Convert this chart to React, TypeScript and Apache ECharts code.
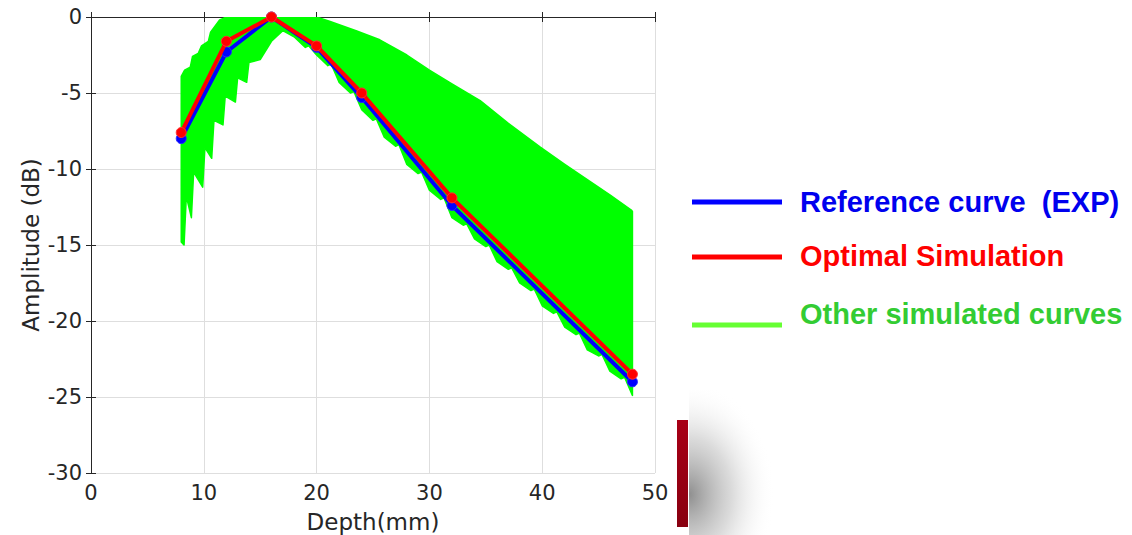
import React, { useEffect, useRef } from "react";
import * as echarts from "echarts";

// Depth positions of the measured / simulated points (mm)
const depth = [8, 12, 16, 20, 24, 32, 48];
// Reference curve (EXP), dB
const referenceExp = [-8.0, -2.3, 0, -2.0, -5.3, -12.4, -24.0];
// Optimal simulation, dB
const optimalSim = [-7.6, -1.6, 0, -1.9, -5.0, -11.9, -23.5];

// Envelope of the other simulated curves (upper edge, left -> right)
const envUpperX = [8.0, 8.3, 8.8, 9.0, 9.5, 9.8, 10.4, 10.6, 11.4, 12.0, 20.0, 21.2, 23.5, 25.6, 28, 30, 32, 34.5, 37, 39.8, 42, 44, 46, 47.9, 48.0];
const envUpperY = [-3.9, -3.5, -3.3, -2.6, -2.4, -1.9, -1.6, -1.0, -0.2, 0, 0, -0.3, -0.9, -1.5, -2.5, -3.5, -4.4, -5.5, -7.0, -8.55, -9.7, -10.7, -11.7, -12.7, -12.8];
// Envelope lower edge (left -> right)
const envLowerX = [8.0, 8.25, 8.45, 8.9, 9.1, 9.9, 10.1, 10.7, 10.9, 11.7, 11.9, 12.8, 13.0, 13.8, 14.0, 15.0, 16.0, 17, 18, 19, 19.3, 20, 21, 21.3, 22, 23, 23.3, 24, 25, 25.3, 26, 27, 27.3, 28, 29, 29.3, 30, 31, 31.3, 32, 33, 33.3, 34, 35, 35.3, 36, 37, 37.3, 38, 39, 39.3, 40, 41, 41.3, 42, 43, 43.3, 44, 45, 45.3, 46, 47, 47.3, 48];
const envLowerY = [-14.8, -15.0, -11.8, -13.2, -10.2, -11.2, -8.6, -9.3, -6.8, -7.1, -5.2, -5.6, -4.0, -4.3, -3.0, -2.8, -1.6, -0.9, -1.3, -2.0, -1.9, -2.5, -3.2, -3.1, -4.3, -5.0, -4.9, -6.1, -6.8, -6.7, -7.9, -8.5, -8.4, -9.7, -10.3, -10.2, -11.4, -12.0, -11.9, -13.2, -13.7, -13.6, -14.6, -15.1, -15.0, -16.1, -16.6, -16.5, -17.5, -18.0, -17.9, -19.0, -19.5, -19.4, -20.4, -20.9, -20.8, -21.9, -22.3, -22.2, -23.3, -23.8, -23.7, -24.9];

const legendLabels = ["Reference curve  (EXP)", "Optimal Simulation", "Other simulated curves"];

const AXIS_FONT = "'DejaVu Sans', Verdana, sans-serif";
const AXIS_COLOR = "#262626";
const LEGEND_FONT = "bold 29px 'Liberation Sans', Arial, sans-serif";

export default function App() {
  const ref = useRef<HTMLDivElement>(null);

  useEffect(() => {
    if (!ref.current) return;
    const chart = echarts.init(ref.current, undefined, { renderer: "svg" });

    const refData = depth.map((d, i) => [d, referenceExp[i]]);
    const optData = depth.map((d, i) => [d, optimalSim[i]]);

    const axisLabelStyle = { color: AXIS_COLOR, fontSize: 21, fontFamily: AXIS_FONT };
    const nameStyle = { color: AXIS_COLOR, fontSize: 23, fontFamily: AXIS_FONT };
    const lineAxis = { show: true, lineStyle: { color: AXIS_COLOR, width: 1 } };
    const tickAxis = { show: true, inside: true, length: 5, lineStyle: { color: AXIS_COLOR } };
    const gridLine = { show: true, lineStyle: { color: "#dedede", width: 1 } };

    const option: any = {
      animation: false,
      backgroundColor: "#ffffff",
      grid: { left: 91, right: 477, top: 17, bottom: 62, containLabel: false, outerBoundsMode: "none" },
      xAxis: [
        {
          type: "value",
          min: 0,
          max: 50,
          interval: 10,
          name: "Depth(mm)",
          nameLocation: "middle",
          nameGap: 37,
          nameTextStyle: nameStyle,
          axisLine: lineAxis,
          axisTick: tickAxis,
          axisLabel: { ...axisLabelStyle, margin: 9 },
          splitLine: gridLine,
        },
        {
          type: "value",
          position: "top",
          min: 0,
          max: 50,
          interval: 10,
          axisLine: lineAxis,
          axisTick: tickAxis,
          axisLabel: { show: false },
          splitLine: { show: false },
        },
      ],
      yAxis: [
        {
          type: "value",
          min: -30,
          max: 0,
          interval: 5,
          name: "Amplitude (dB)",
          nameLocation: "middle",
          nameGap: 49,
          nameTextStyle: nameStyle,
          axisLine: lineAxis,
          axisTick: tickAxis,
          axisLabel: { ...axisLabelStyle, margin: 9 },
          splitLine: gridLine,
        },
        {
          type: "value",
          position: "right",
          min: -30,
          max: 0,
          interval: 5,
          axisLine: lineAxis,
          axisTick: tickAxis,
          axisLabel: { show: false },
          splitLine: { show: false },
        },
      ],
      series: [
        {
          type: "custom",
          name: legendLabels[2],
          coordinateSystem: "cartesian2d",
          xAxisIndex: 0,
          yAxisIndex: 0,
          silent: true,
          clip: true,
          z: 1,
          data: [[envUpperX[0], envUpperY[0]]],
          renderItem: (params: any, api: any) => {
            if (params.dataIndex !== 0) return null;
            const pts: number[][] = [];
            for (let i = 0; i < envUpperX.length; i++) pts.push(api.coord([envUpperX[i], envUpperY[i]]));
            for (let i = envLowerX.length - 1; i >= 0; i--) pts.push(api.coord([envLowerX[i], envLowerY[i]]));
            return {
              type: "polygon",
              shape: { points: pts },
              style: { fill: "#00ff00", stroke: "#00ff00", lineWidth: 1.5, lineJoin: "round" },
            };
          },
        },
        {
          type: "line",
          name: legendLabels[0],
          data: refData,
          z: 3,
          lineStyle: { color: "#0000ff", width: 4 },
          symbol: "circle",
          symbolSize: 10,
          itemStyle: { color: "#0000ff", borderColor: "#2a2aff", borderWidth: 1 },
        },
        {
          type: "line",
          name: legendLabels[1],
          data: optData,
          z: 4,
          lineStyle: { color: "#ff0000", width: 4 },
          symbol: "circle",
          symbolSize: 10,
          itemStyle: { color: "#ff0000", borderColor: "#ff3030", borderWidth: 1 },
        },
      ],
      graphic: [
        // shadow next to the dark red bar
        {
          type: "rect",
          silent: true,
          shape: { x: 689, y: 390, width: 110, height: 145 },
          style: {
            fill: {
              type: "radial",
              x: 0,
              y: 0.72,
              r: 0.78,
              colorStops: [
                { offset: 0, color: "rgba(130,130,130,0.9)" },
                { offset: 0.5, color: "rgba(175,175,175,0.45)" },
                { offset: 1, color: "rgba(255,255,255,0)" },
              ],
            },
          },
        },
        {
          type: "rect",
          silent: true,
          shape: { x: 677, y: 420, width: 11, height: 107 },
          style: {
            fill: {
              type: "linear",
              x: 0,
              y: 0,
              x2: 0,
              y2: 1,
              colorStops: [
                { offset: 0, color: "#a80016" },
                { offset: 1, color: "#880010" },
              ],
            },
          },
        },
        // legend
        { type: "line", silent: true, shape: { x1: 692, y1: 202, x2: 782, y2: 202 }, style: { stroke: "#0000ff", lineWidth: 5 } },
        { type: "line", silent: true, shape: { x1: 692, y1: 257, x2: 782, y2: 257 }, style: { stroke: "#ff0000", lineWidth: 5 } },
        { type: "line", silent: true, shape: { x1: 692, y1: 325, x2: 782, y2: 325 }, style: { stroke: "#66ff33", lineWidth: 5 } },
        {
          type: "text",
          silent: true,
          x: 800,
          y: 202,
          style: { text: legendLabels[0], fill: "#0000ee", font: LEGEND_FONT, verticalAlign: "middle", align: "left" },
        },
        {
          type: "text",
          silent: true,
          x: 800,
          y: 256,
          style: { text: legendLabels[1], fill: "#ff0000", font: LEGEND_FONT, verticalAlign: "middle", align: "left" },
        },
        {
          type: "text",
          silent: true,
          x: 800,
          y: 314,
          style: { text: legendLabels[2], fill: "#33cc33", font: LEGEND_FONT, verticalAlign: "middle", align: "left" },
        },
      ],
    };

    chart.setOption(option);
    return () => chart.dispose();
  }, []);

  return (
    <div
      ref={ref}
      style={{ position: "fixed", left: 0, top: 0, width: 1132, height: 535, background: "#fff" }}
    />
  );
}
